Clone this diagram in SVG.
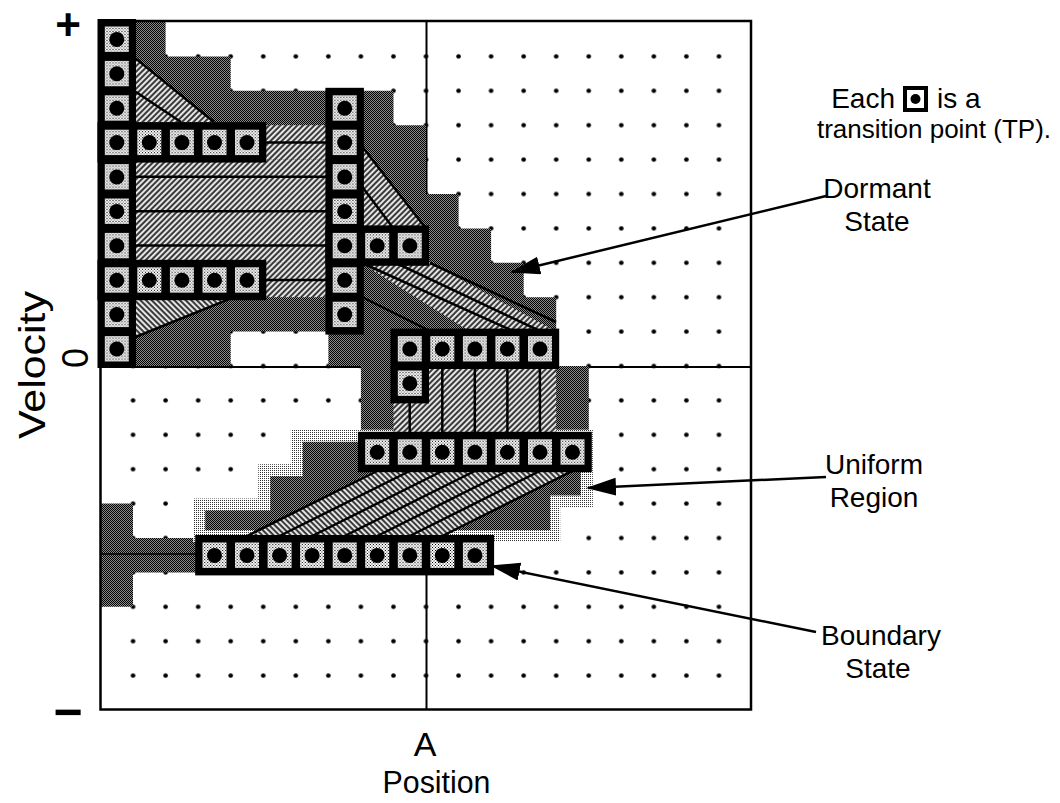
<svg xmlns="http://www.w3.org/2000/svg" width="1060" height="803" viewBox="0 0 1060 803">
<style>
.ln{stroke:#000;stroke-width:2.5;fill:none;stroke-linecap:butt}
.cl{stroke:#000;stroke-width:2;fill:none}
.lbl{font-family:"Liberation Sans",Arial,Helvetica,sans-serif;font-size:28px;fill:#000}
.ax{font-family:"Liberation Sans",Arial,sans-serif;font-size:34px;fill:#000}
.tpf{fill:#000}
.arr{stroke:#000;stroke-width:2.5;fill:none;marker-end:url(#ah)}
</style>
<defs>
<pattern id="dots" x="84.2" y="4.8" width="32.55" height="34.4" patternUnits="userSpaceOnUse">
<circle cx="16.3" cy="17.2" r="2.3" fill="#000"/>
</pattern>
<pattern id="dk" width="2" height="2" patternUnits="userSpaceOnUse">
<rect width="2" height="2" fill="#8c8c8c"/>
<rect width="1" height="1" fill="#000"/>
<rect x="1" y="1" width="1" height="1" fill="#000"/>
</pattern>
<pattern id="lt" width="2" height="2" patternUnits="userSpaceOnUse">
<rect width="2" height="2" fill="#fff"/>
<rect width="1" height="1" fill="#333"/>
</pattern>
<pattern id="tpi" width="3" height="3" patternUnits="userSpaceOnUse">
<rect width="3" height="3" fill="#fff"/>
<rect width="1" height="1" fill="#000"/>
<rect x="1.5" y="1.5" width="1" height="1" fill="#000"/>
</pattern>
<pattern id="hA" width="4" height="4" patternUnits="userSpaceOnUse" patternTransform="rotate(45)">
<rect width="4" height="4" fill="#3a3a3a"/>
<rect width="1.9" height="4" fill="#eeeeee"/>
</pattern>
<pattern id="hB" width="4" height="4" patternUnits="userSpaceOnUse" patternTransform="rotate(-45)">
<rect width="4" height="4" fill="#3a3a3a"/>
<rect width="1.9" height="4" fill="#eeeeee"/>
</pattern>
<g id="tp">
<rect x="4.3" y="4.5" width="24" height="25.4" fill="url(#tpi)"/>
<circle cx="16.3" cy="17.4" r="7.5"/>
</g>
<marker id="ah" markerWidth="32" markerHeight="20" refX="28" refY="9" orient="auto" markerUnits="userSpaceOnUse">
<path d="M0,0 L30,9 L0,18 Z" fill="#000"/>
</marker>
</defs>
<rect width="1060" height="803" fill="#fff"/>

<g id="grid">
<rect x="117" y="39" width="619" height="654" fill="url(#dots)"/>
<line class="cl" x1="426.5" y1="21" x2="426.5" y2="709.5"/>
<line class="cl" x1="100.5" y1="367" x2="751" y2="367"/>
</g>

<g id="regions">
<path d="M100.5,22 H165.6 V56.4 H230.7 V90.8 H393.5 V125.2 H426 V194 H458.6 V228.4 H491.1 V262.8 H523.7 V297.2 H556.2 V366 H588.8 V434.8 H360.9 V366 H328.4 V331.6 H230.7 V366 H100.5 Z" fill="url(#dk)"/>
<path d="M100.5,503.6 H133 V538 H198.2 V572.4 H133 V606.8 H100.5 Z" fill="url(#dk)"/>
<path d="M193.2,542 V498.6 H258.3 V464.2 H290.8 V429.8 H592.8 V507.6 H560.2 V542 Z" fill="url(#lt)"/>
<path d="M205.2,530 V510.6 H270.3 V476.2 H302.8 V441.8 H580.8 V495.6 H550.2 V530 Z" fill="url(#dk)"/>
<rect x="133" y="159.6" width="195.4" height="103.2" fill="url(#hA)"/>
<rect x="263.3" y="125.2" width="65.1" height="34.4" fill="url(#hA)"/>
<rect x="263.3" y="262.8" width="65.1" height="34.4" fill="url(#hA)"/>
<polygon points="133,56.4 214,122 133,122" fill="url(#hA)"/>
<polygon points="360.9,145 426,228.4 360.9,228.4" fill="url(#hA)"/>
<polygon points="360.9,262.8 430,262.8 556.2,331.6 470,331.6" fill="url(#hA)"/>
<rect x="393.5" y="366" width="162.7" height="68.8" fill="url(#hA)"/>
<polygon points="247,538 442.3,538 572.5,469.2 377.2,469.2" fill="url(#hB)"/>
<polygon points="133,297.2 234,297.2 133,338" fill="url(#hB)"/>
</g>

<g id="links">
<line class="ln" x1="133" y1="176.8" x2="328.4" y2="176.8"/>
<line class="ln" x1="133" y1="211.2" x2="328.4" y2="211.2"/>
<line class="ln" x1="133" y1="245.6" x2="328.4" y2="245.6"/>
<line class="ln" x1="263.3" y1="142.4" x2="328.4" y2="142.4"/>
<line class="ln" x1="263.3" y1="280" x2="328.4" y2="280"/>
<line class="ln" x1="133" y1="56.4" x2="214" y2="122"/>
<line class="ln" x1="133" y1="90" x2="181" y2="122"/>
<line class="ln" x1="133" y1="338" x2="234" y2="297.2"/>
<line class="ln" x1="360.9" y1="145" x2="426" y2="228.4"/>
<line class="ln" x1="360.9" y1="185" x2="393.5" y2="228.4"/>
<line class="ln" x1="362" y1="263" x2="513" y2="331"/>
<line class="ln" x1="396" y1="263" x2="540" y2="331"/>
<line class="ln" x1="430" y1="263" x2="556" y2="322"/>
<line class="ln" x1="362" y1="297" x2="430" y2="331"/>
<line class="ln" x1="409.7" y1="400" x2="409.7" y2="432"/>
<line class="ln" x1="442.3" y1="368" x2="442.3" y2="432"/>
<line class="ln" x1="474.8" y1="368" x2="474.8" y2="432"/>
<line class="ln" x1="507.4" y1="368" x2="507.4" y2="432"/>
<line class="ln" x1="539.9" y1="368" x2="539.9" y2="432"/>
<line class="ln" x1="247" y1="536" x2="377.2" y2="471"/>
<line class="ln" x1="279.5" y1="536" x2="409.7" y2="471"/>
<line class="ln" x1="312.1" y1="536" x2="442.3" y2="471"/>
<line class="ln" x1="344.6" y1="536" x2="474.8" y2="471"/>
<line class="ln" x1="377.2" y1="536" x2="507.4" y2="471"/>
<line class="ln" x1="409.7" y1="536" x2="539.9" y2="471"/>
<line class="ln" x1="442.3" y1="536" x2="572.5" y2="471"/>
<line class="ln" x1="100.5" y1="554" x2="198" y2="554" style="stroke-width:1.5"/>
</g>

<g id="tp-frames">
<rect class="tpf" x="97.5" y="19" width="38.5" height="349"/>
<rect class="tpf" x="97.5" y="122.2" width="168.8" height="40.4"/>
<rect class="tpf" x="97.5" y="259.8" width="168.8" height="40.4"/>
<rect class="tpf" x="325.4" y="87.8" width="38.5" height="246.8"/>
<rect class="tpf" x="325.4" y="225.4" width="103.6" height="40.4"/>
<rect class="tpf" x="390.5" y="328.6" width="168.7" height="40.4"/>
<rect class="tpf" x="390.5" y="366" width="38.5" height="37.4"/>
<rect class="tpf" x="357.9" y="431.8" width="233.9" height="40.4"/>
<rect class="tpf" x="195.2" y="535" width="298.9" height="40.4"/>
</g>

<g id="tp-points">
<use href="#tp" x="100.5" y="22"/><use href="#tp" x="100.5" y="56.4"/><use href="#tp" x="100.5" y="90.8"/><use href="#tp" x="100.5" y="125.2"/><use href="#tp" x="100.5" y="159.6"/><use href="#tp" x="100.5" y="194"/><use href="#tp" x="100.5" y="228.4"/><use href="#tp" x="100.5" y="262.8"/><use href="#tp" x="100.5" y="297.2"/><use href="#tp" x="100.5" y="331.6"/>
<use href="#tp" x="133" y="125.2"/><use href="#tp" x="165.6" y="125.2"/><use href="#tp" x="198.2" y="125.2"/><use href="#tp" x="230.7" y="125.2"/>
<use href="#tp" x="133" y="262.8"/><use href="#tp" x="165.6" y="262.8"/><use href="#tp" x="198.2" y="262.8"/><use href="#tp" x="230.7" y="262.8"/>
<use href="#tp" x="328.4" y="90.8"/><use href="#tp" x="328.4" y="125.2"/><use href="#tp" x="328.4" y="159.6"/><use href="#tp" x="328.4" y="194"/><use href="#tp" x="328.4" y="228.4"/><use href="#tp" x="328.4" y="262.8"/><use href="#tp" x="328.4" y="297.2"/>
<use href="#tp" x="360.9" y="228.4"/><use href="#tp" x="393.5" y="228.4"/>
<use href="#tp" x="393.5" y="331.6"/><use href="#tp" x="426" y="331.6"/><use href="#tp" x="458.6" y="331.6"/><use href="#tp" x="491.1" y="331.6"/><use href="#tp" x="523.7" y="331.6"/>
<use href="#tp" x="393.5" y="366"/>
<use href="#tp" x="360.9" y="434.8"/><use href="#tp" x="393.5" y="434.8"/><use href="#tp" x="426" y="434.8"/><use href="#tp" x="458.6" y="434.8"/><use href="#tp" x="491.1" y="434.8"/><use href="#tp" x="523.7" y="434.8"/><use href="#tp" x="556.2" y="434.8"/>
<use href="#tp" x="198.2" y="538"/><use href="#tp" x="230.7" y="538"/><use href="#tp" x="263.3" y="538"/><use href="#tp" x="295.8" y="538"/><use href="#tp" x="328.4" y="538"/><use href="#tp" x="360.9" y="538"/><use href="#tp" x="393.5" y="538"/><use href="#tp" x="426" y="538"/><use href="#tp" x="458.6" y="538"/>
</g>

<g id="frame">
<rect x="100.5" y="21" width="650.5" height="688.5" fill="none" stroke="#000" stroke-width="2.5"/>
</g>

<g id="connectors">
<line class="arr" x1="826" y1="196" x2="512" y2="272"/>
<line class="arr" x1="826" y1="477" x2="588" y2="488"/>
<line class="arr" x1="816" y1="632" x2="492" y2="566"/>
</g>

<g id="legend">
<text class="lbl" x="895" y="108" text-anchor="end">Each</text>
<rect x="903" y="86" width="25" height="26" fill="#000"/>
<rect x="907" y="90" width="17" height="18" fill="#fff"/>
<circle cx="915.5" cy="99" r="5"/>
<text class="lbl" x="937" y="108">is a</text>
<text class="lbl" x="934" y="138" text-anchor="middle" style="font-size:26px">transition point (TP).</text>
</g>
<g id="label-dormant"><text class="lbl" x="877" y="198" text-anchor="middle">Dormant</text><text class="lbl" x="877" y="231" text-anchor="middle">State</text></g>
<g id="label-uniform"><text class="lbl" x="874" y="474" text-anchor="middle">Uniform</text><text class="lbl" x="874" y="507" text-anchor="middle">Region</text></g>
<g id="label-boundary"><text class="lbl" x="881" y="645" text-anchor="middle">Boundary</text><text class="lbl" x="878" y="678" text-anchor="middle">State</text></g>

<g id="axes-labels">
<text x="68" y="40" text-anchor="middle" style="font-family:'Liberation Sans',Arial,sans-serif;font-size:44px;font-weight:bold">+</text>
<text x="68" y="729" text-anchor="middle" style="font-family:'Liberation Sans',Arial,sans-serif;font-size:50px;font-weight:bold">−</text>
<text class="ax" transform="translate(45,365) rotate(-90)" text-anchor="middle" style="font-size:36px" textLength="148" lengthAdjust="spacingAndGlyphs">Velocity</text>
<text class="ax" transform="translate(88,358) rotate(-90)" text-anchor="middle" style="font-size:36px">0</text>
<text class="ax" x="425" y="756" text-anchor="middle">A</text>
<text class="ax" x="436.5" y="793" text-anchor="middle" style="font-size:32px" textLength="108" lengthAdjust="spacingAndGlyphs">Position</text>
</g>
</svg>
